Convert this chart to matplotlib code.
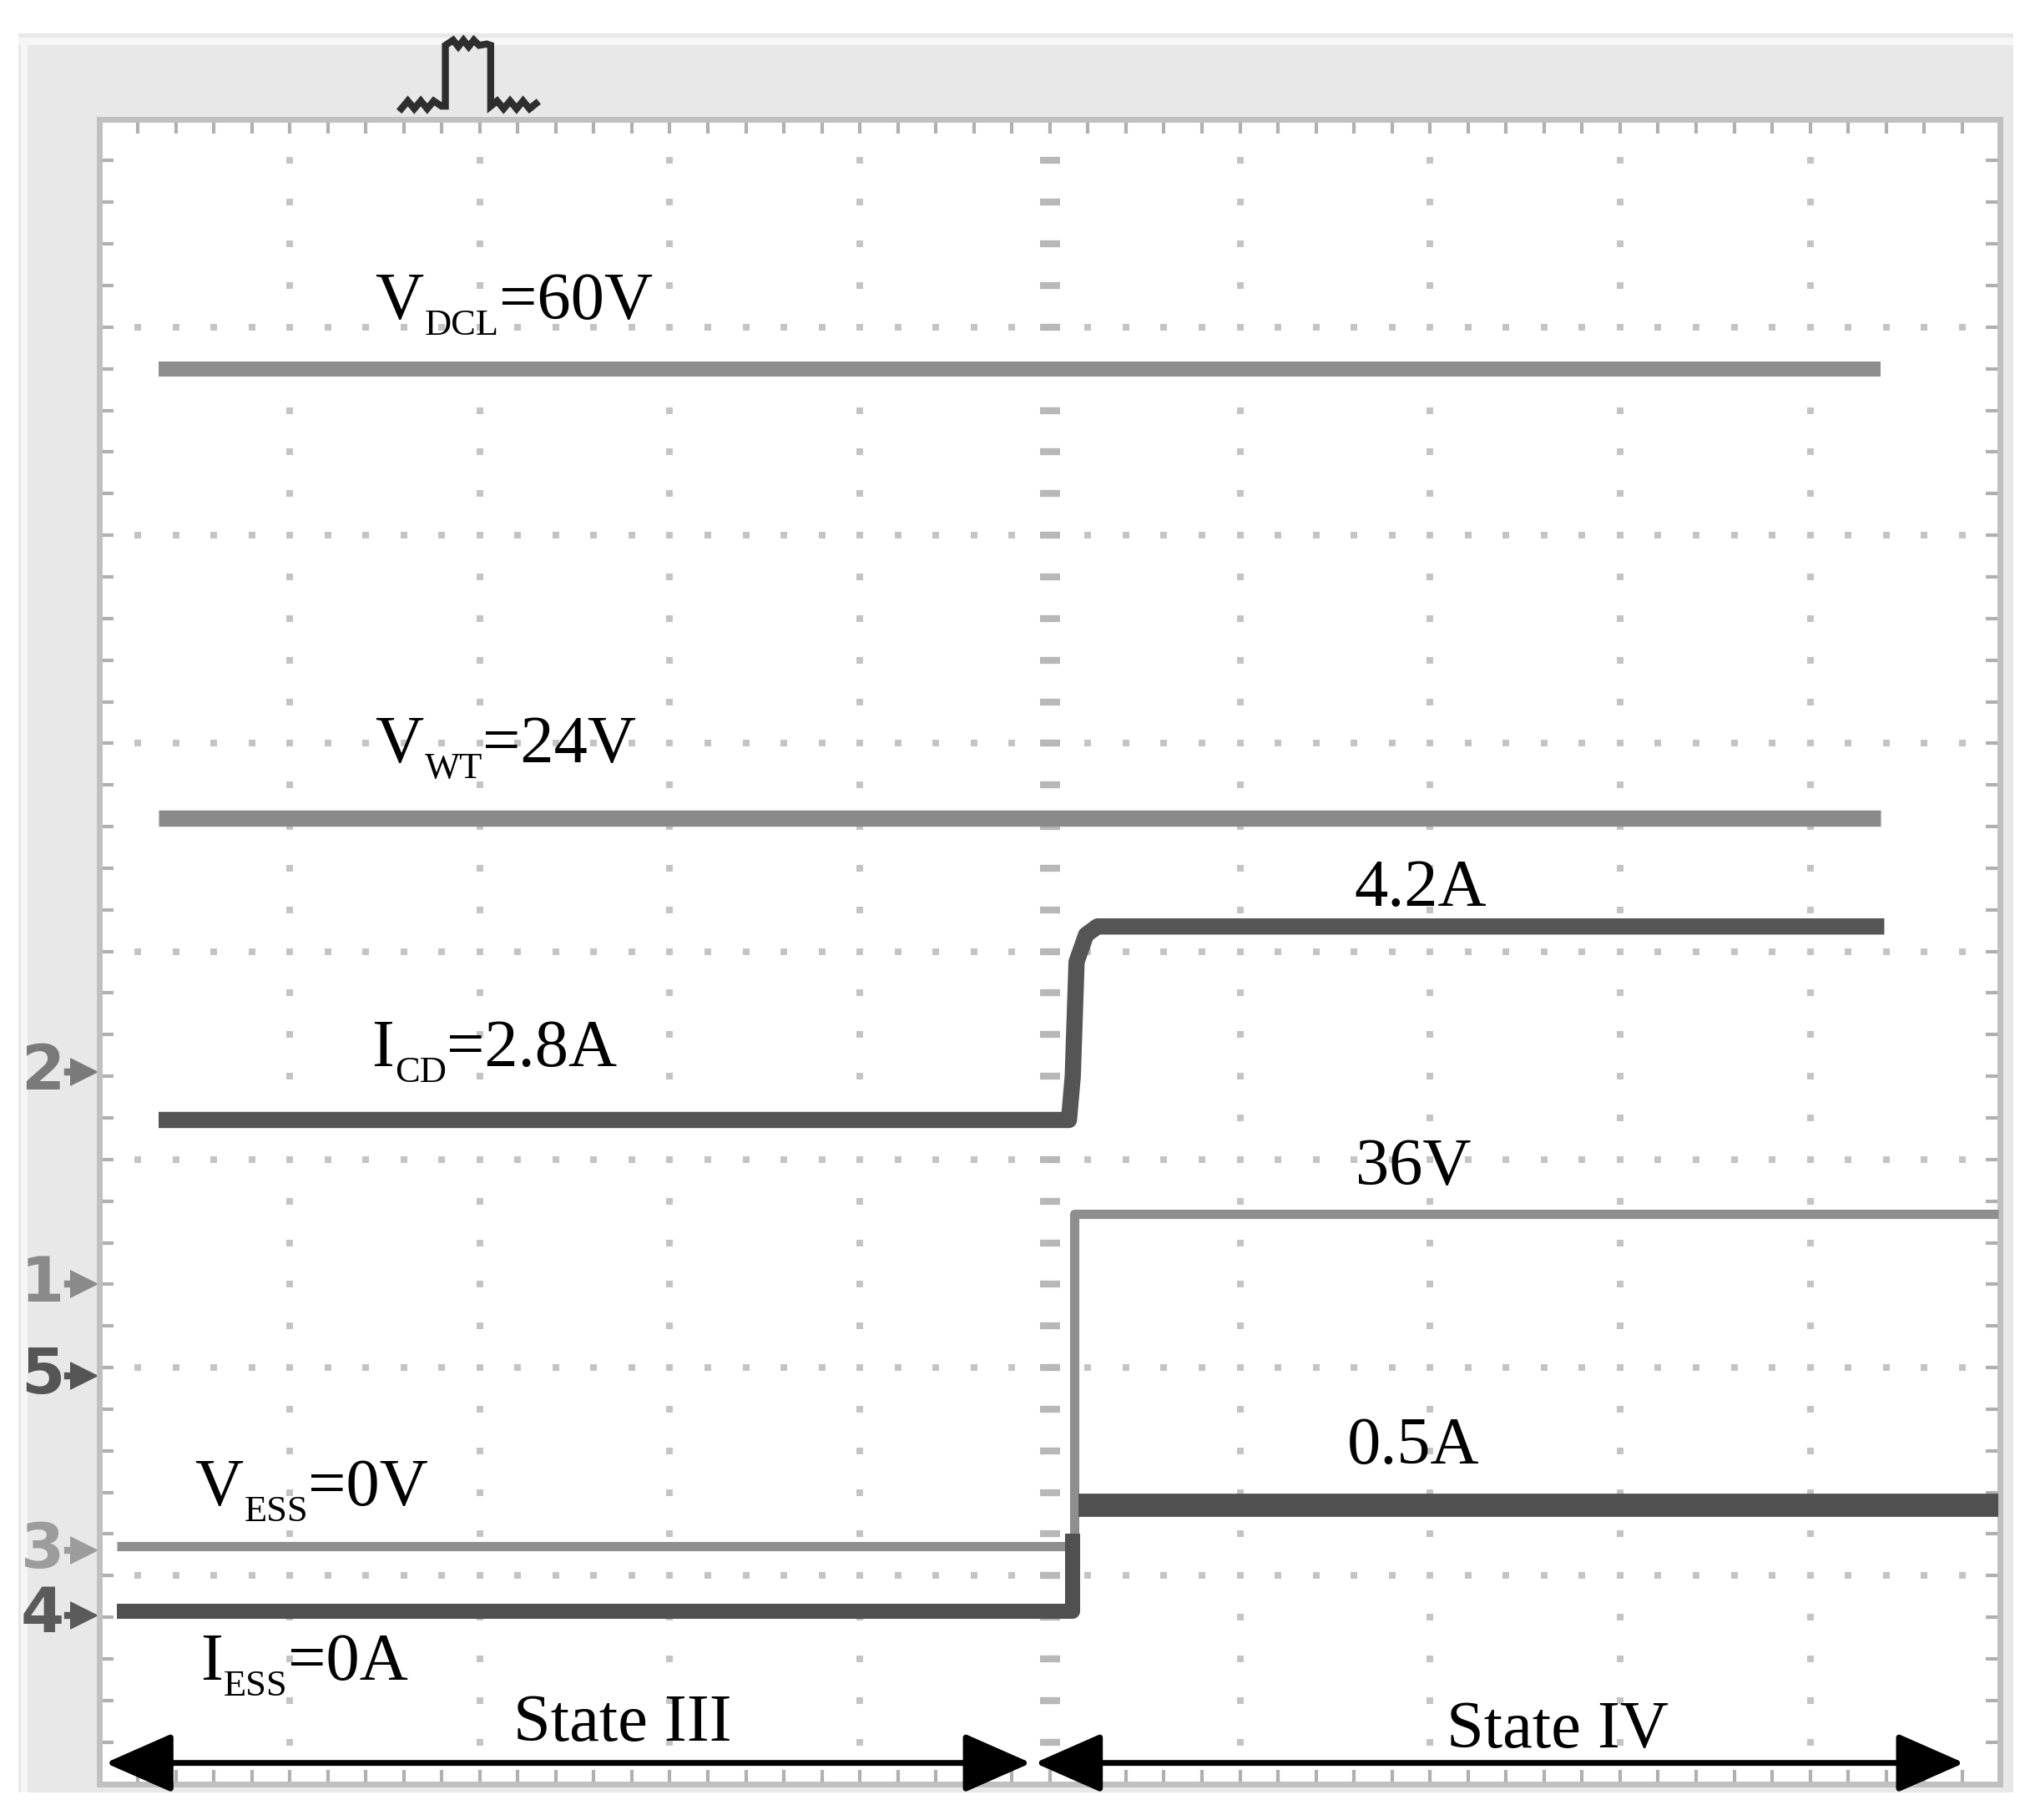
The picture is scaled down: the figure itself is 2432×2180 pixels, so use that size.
import numpy as np
import matplotlib.pyplot as plt
from matplotlib.patches import Rectangle, FancyArrowPatch
from matplotlib.transforms import IdentityTransform

plt.rcParams['font.family'] = ['Liberation Serif', 'DejaVu Serif']

# scope traces, in screen divisions (10 x 8 grid)
vdcl_t = [0.31, 9.37]
vdcl = [6.80, 6.80]
vwt_t = [0.31, 9.37]
vwt = [4.64, 4.64]
icd_t = [0.31, 5.10, 5.12, 5.14, 5.19, 5.25, 9.39]
icd = [3.19, 3.19, 3.40, 3.95, 4.08, 4.12, 4.12]
vess_t = [0.09, 5.13, 5.13, 9.99]
vess = [1.14, 1.14, 2.74, 2.74]
iess_lo_t = [0.09, 5.12, 5.12]
iess_lo = [0.83, 0.83, 1.20]
iess_hi_t = [5.15, 9.99]
iess_hi = [1.34, 1.34]

# channel ground markers on the left
ch_names = ['2', '1', '5', '3', '4']
ch_levels = [3.42, 2.40, 1.96, 1.12, 0.81]
ch_colors = ['#7a7a7a', '#8a8a8a', '#555555', '#9c9c9c', '#5a5a5a']

# trigger icon in the top bar (screen pixels)
trig_x = [310, 315, 320, 325, 330, 335, 341, 344, 344, 350, 354, 358, 362, 366, 370, 376, 379, 379,
          384, 389, 394, 399, 404, 409, 414]
trig_y = [84, 78, 84, 78, 84, 78, 82, 82, 35, 31, 36, 31, 36, 31, 35, 34, 35, 82,
          78, 84, 78, 84, 78, 84, 80]

W, H = 1568, 1406
fig = plt.figure(figsize=(24.32, 21.80), dpi=100)
fig.patch.set_facecolor('white')

# overlay in screen pixels for the grey bezel
ov = fig.add_axes([0, 0, 1, 1], zorder=0)
ov.set_xlim(0, W)
ov.set_ylim(H, 0)
ov.axis('off')
ov.add_patch(Rectangle((14, 26), 1541, 1359, facecolor='#e8e8e8', edgecolor='none'))
ov.add_patch(Rectangle((14, 29), 1541, 6, facecolor='#f6f6f6', edgecolor='none'))
ov.add_patch(Rectangle((16, 29), 5, 1356, facecolor='#f6f6f6', edgecolor='none'))
ov.plot(trig_x, trig_y, color='#2e2e2e', lw=6, solid_joinstyle='miter')

L, R, T, B = 77, 1545, 92, 1378
ax = fig.add_axes([L / W, 1 - B / H, (R - L) / W, (B - T) / H], zorder=1)
ax.set_facecolor('white')
ax.set_xlim(0, 10)
ax.set_ylim(0, 8)

# dotted graticule
minor = np.arange(0.2, 8.0, 0.2)
minor_x = np.arange(0.2, 10.0, 0.2)
for k in range(1, 10):
    if k == 5:
        continue
    ax.scatter(np.full(len(minor), k), minor, s=26, marker='s', color='#c4c4c4', lw=0, zorder=1)
for j in range(1, 8):
    ax.scatter(minor_x, np.full(len(minor_x), j), s=26, marker='s', color='#c4c4c4', lw=0, zorder=1)
ax.scatter(np.full(len(minor), 5), minor, s=280, marker='_', color='#b8b8b8', lw=6, zorder=1)

ax.set_xticks(np.arange(0, 10.01, 1))
ax.set_yticks(np.arange(0, 8.01, 1))
ax.set_xticks(np.arange(0, 10.01, 0.2), minor=True)
ax.set_yticks(np.arange(0, 8.01, 0.2), minor=True)
ax.tick_params(which='both', direction='in', top=True, right=True, length=12, width=3,
               color='#b0b0b0', labelbottom=False, labelleft=False)
for s in ax.spines.values():
    s.set_color('#c0c0c0')
    s.set_linewidth(5)

# traces
ax.plot(vdcl_t, vdcl, color='#8e8e8e', lw=13, solid_capstyle='butt', zorder=3)
ax.plot(vwt_t, vwt, color='#8a8a8a', lw=14, solid_capstyle='butt', zorder=3)
ax.plot(icd_t, icd, color='#555555', lw=14, solid_capstyle='butt', zorder=3)
ax.plot(vess_t, vess, color='#8e8e8e', lw=8, solid_capstyle='butt', zorder=3)
ax.plot(iess_lo_t, iess_lo, color='#505050', lw=13, solid_capstyle='butt', zorder=3)
ax.plot(iess_hi_t, iess_hi, color='#505050', lw=20, solid_capstyle='butt', zorder=3)

fs = 58
rend = fig.canvas.get_renderer()


def sub_label(x, y, main, sub, rest):
    t1 = ax.text(x, y, main, fontsize=fs, va='baseline')
    px, py = ax.transData.transform((x, y))
    x1 = t1.get_window_extent(rend).x1
    t2 = ax.text(x1 + 1, py - 19, sub, fontsize=32, va='baseline', transform=IdentityTransform())
    x2 = t2.get_window_extent(rend).x1
    ax.text(x2, py, rest, fontsize=fs, va='baseline', transform=IdentityTransform())


sub_label(1.45, 7.04, 'V', 'DCL', '=60V')
sub_label(1.45, 4.91, 'V', 'WT', '=24V')
sub_label(1.43, 3.45, 'I', 'CD', '=2.8A')
sub_label(0.50, 1.34, 'V', 'ESS', '=0V')
sub_label(0.53, 0.50, 'I', 'ESS', '=0A')
ax.text(6.95, 4.22, '4.2A', fontsize=fs, ha='center', va='baseline')
ax.text(6.91, 2.88, '36V', fontsize=fs, ha='center', va='baseline')
ax.text(6.91, 1.54, '0.5A', fontsize=fs, ha='center', va='baseline')
ax.text(2.75, 0.205, 'State III', fontsize=fs, ha='center', va='baseline')
ax.text(7.67, 0.174, 'State IV', fontsize=fs, ha='center', va='baseline')

for x0, x1 in [(0.03, 4.90), (4.92, 9.81)]:
    ax.add_patch(FancyArrowPatch((x0, 0.10), (x1, 0.10),
                                 arrowstyle='<|-|>,head_length=2.5,head_width=1.1',
                                 mutation_scale=20, lw=5, color='black',
                                 shrinkA=0, shrinkB=0, clip_on=False, zorder=5))

# channel markers
tr = ax.get_yaxis_transform()
for name, lev, c in zip(ch_names, ch_levels, ch_colors):
    ax.text(-0.030, lev, name, transform=tr, fontsize=54, fontweight='bold',
            family='DejaVu Sans', color=c, ha='center', va='center', clip_on=False)
    ax.plot([-0.017, -0.009], [lev, lev], transform=tr, color=c, lw=6, clip_on=False)
    ax.plot([-0.008], [lev], transform=tr, marker='>', ms=24, color=c, mew=0, clip_on=False)

fig.savefig('out.png', dpi=100)
